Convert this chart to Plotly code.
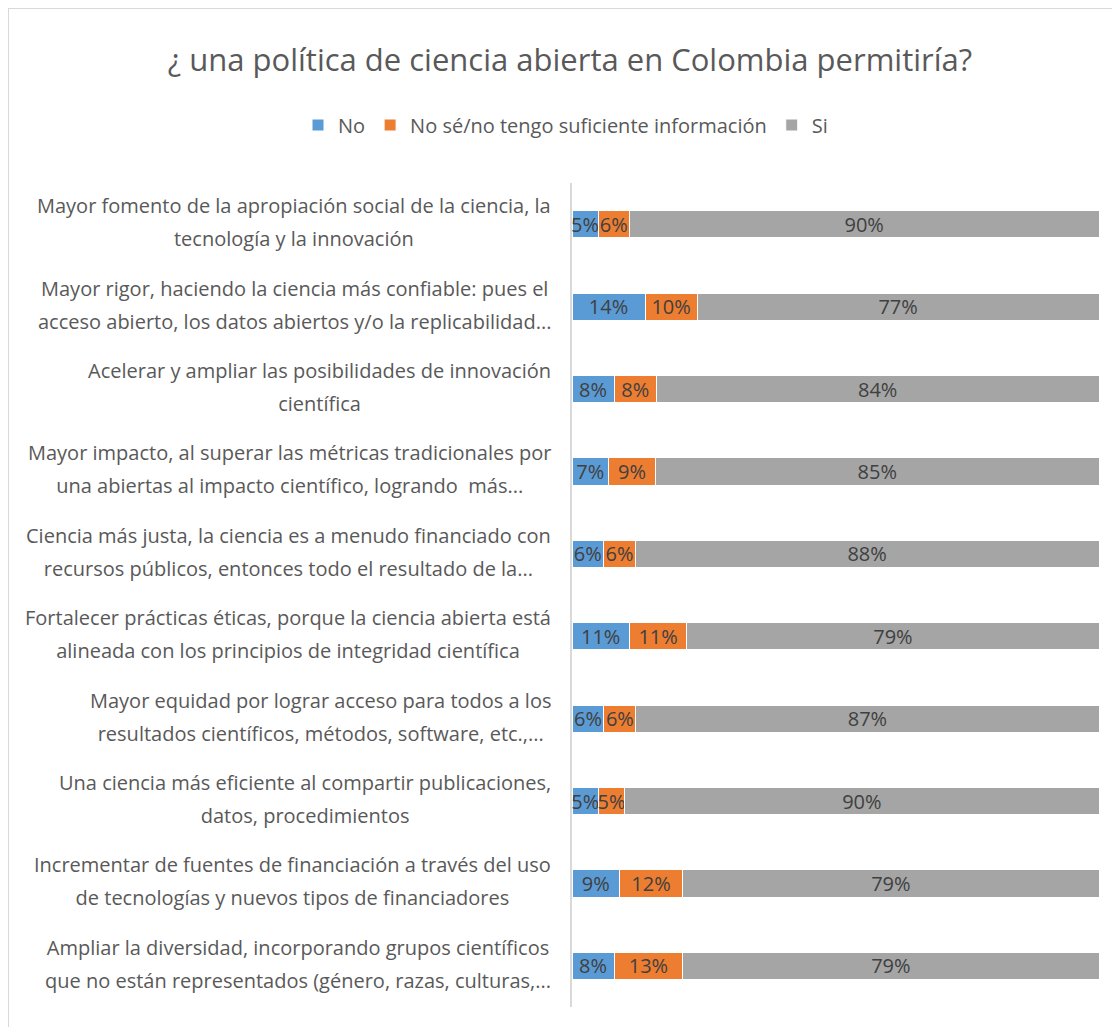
import plotly.graph_objects as go

line1 = [
    "Mayor fomento de la apropiación social de la ciencia, la",
    "Mayor rigor, haciendo la ciencia más confiable: pues el",
    "Acelerar y ampliar las posibilidades de innovación",
    "Mayor impacto, al superar las métricas tradicionales por",
    "Ciencia más justa, la ciencia es a menudo financiado con",
    "Fortalecer prácticas éticas, porque la ciencia abierta está",
    "Mayor equidad por lograr acceso para todos a los",
    "Una ciencia más eficiente al compartir publicaciones,",
    "Incrementar de fuentes de financiación a través del uso",
    "Ampliar la diversidad, incorporando grupos científicos",
]
line2 = [
    "tecnología y la innovación",
    "acceso abierto, los datos abiertos y/o la replicabilidad...",
    "científica",
    "una abiertas al impacto científico, logrando  más...",
    "recursos públicos, entonces todo el resultado de la...",
    "alineada con los principios de integridad científica",
    "resultados científicos, métodos, software, etc.,...",
    "datos, procedimientos",
    "de tecnologías y nuevos tipos de financiadores",
    "que no están representados (género, razas, culturas,...",
]
categories = [a + " " + b for a, b in zip(line1, line2)]
series_names = ["No", "No sé/no tengo suficiente información", "Si"]
no_vals = [5, 14, 8, 7, 6, 11, 6, 5, 9, 8]
nose_vals = [6, 10, 8, 9, 6, 11, 6, 5, 12, 13]
si_vals = [90, 77, 84, 85, 88, 79, 87, 90, 79, 79]
colors = ["#5B9BD5", "#ED7D31", "#A5A5A5"]

OFF = 8  # page body margin
W, H = 1120 - OFF, 1027 - OFF
# target page-pixel geometry
PL, PR, PT, PB = 572, 1099, 183, 1007
L, T = PL - OFF, PT - OFF
R = W - (PR - OFF)
B = H - (PB - OFF)
pw, ph = W - L - R, H - T - B

def px_x(px):
    return (px - OFF - L) / pw

def px_y(py):
    return (H - B - (py - OFF)) / ph

fig = go.Figure()
for name, vals, col in zip(series_names, [no_vals, nose_vals, si_vals], colors):
    fig.add_trace(go.Bar(
        y=categories, x=vals, name=name, orientation="h",
        marker=dict(color=col, line=dict(color="#ffffff", width=1)),
        text=[f"{v}%" for v in vals], textposition="inside",
        insidetextanchor="middle", textangle=0,
        textfont=dict(family="Open Sans", size=20, color="#404040"),
        hoverinfo="skip",
    ))

SPAN = "<span style='font-size:20px'>{}</span>"
annotations = []
for c, a, b in zip(categories, line1, line2):
    annotations.append(dict(
        x=px_x(553), xref="paper", y=c, yref="y", yshift=2,
        text=SPAN.format(a) + "<br>" + SPAN.format(b), showarrow=False,
        xanchor="right", yanchor="middle", align="center",
        font=dict(family="Open Sans", size=25.4, color="#595959"),
    ))

fig.update_layout(
    width=W, height=H,
    margin=dict(l=L, r=R, t=T, b=B),
    barmode="stack", barnorm="percent", bargap=0.67,
    plot_bgcolor="white", paper_bgcolor="white",
    uniformtext=dict(mode="show", minsize=20),
    title=dict(text="¿ una política de ciencia abierta en Colombia permitiría?",
               x=(570 - OFF) / W, xanchor="center", y=1 - (60 - OFF) / H, yanchor="middle",
               font=dict(family="Open Sans", size=31, color="#595959")),
    legend=dict(orientation="h", xref="paper", yref="paper",
                x=px_x(298), xanchor="left", y=px_y(125), yanchor="middle",
                font=dict(family="Open Sans", size=20, color="#595959"),
                traceorder="normal", itemwidth=30),
    xaxis=dict(visible=False, range=[0, 100], fixedrange=True),
    yaxis=dict(showticklabels=False, showline=True, linecolor="#d9d9d9",
               linewidth=2, autorange="reversed", ticks="",
               categoryorder="array", categoryarray=categories, showgrid=False),
    annotations=annotations,
    shapes=[
        dict(type="line", xref="paper", yref="paper", x0=px_x(8), x1=px_x(1130),
             y0=px_y(8), y1=px_y(8), line=dict(color="#d9d9d9", width=2)),
        dict(type="line", xref="paper", yref="paper", x0=px_x(8), x1=px_x(8),
             y0=px_y(8), y1=px_y(1030), line=dict(color="#d9d9d9", width=2)),
    ],
)

fig.write_html("out.html")
